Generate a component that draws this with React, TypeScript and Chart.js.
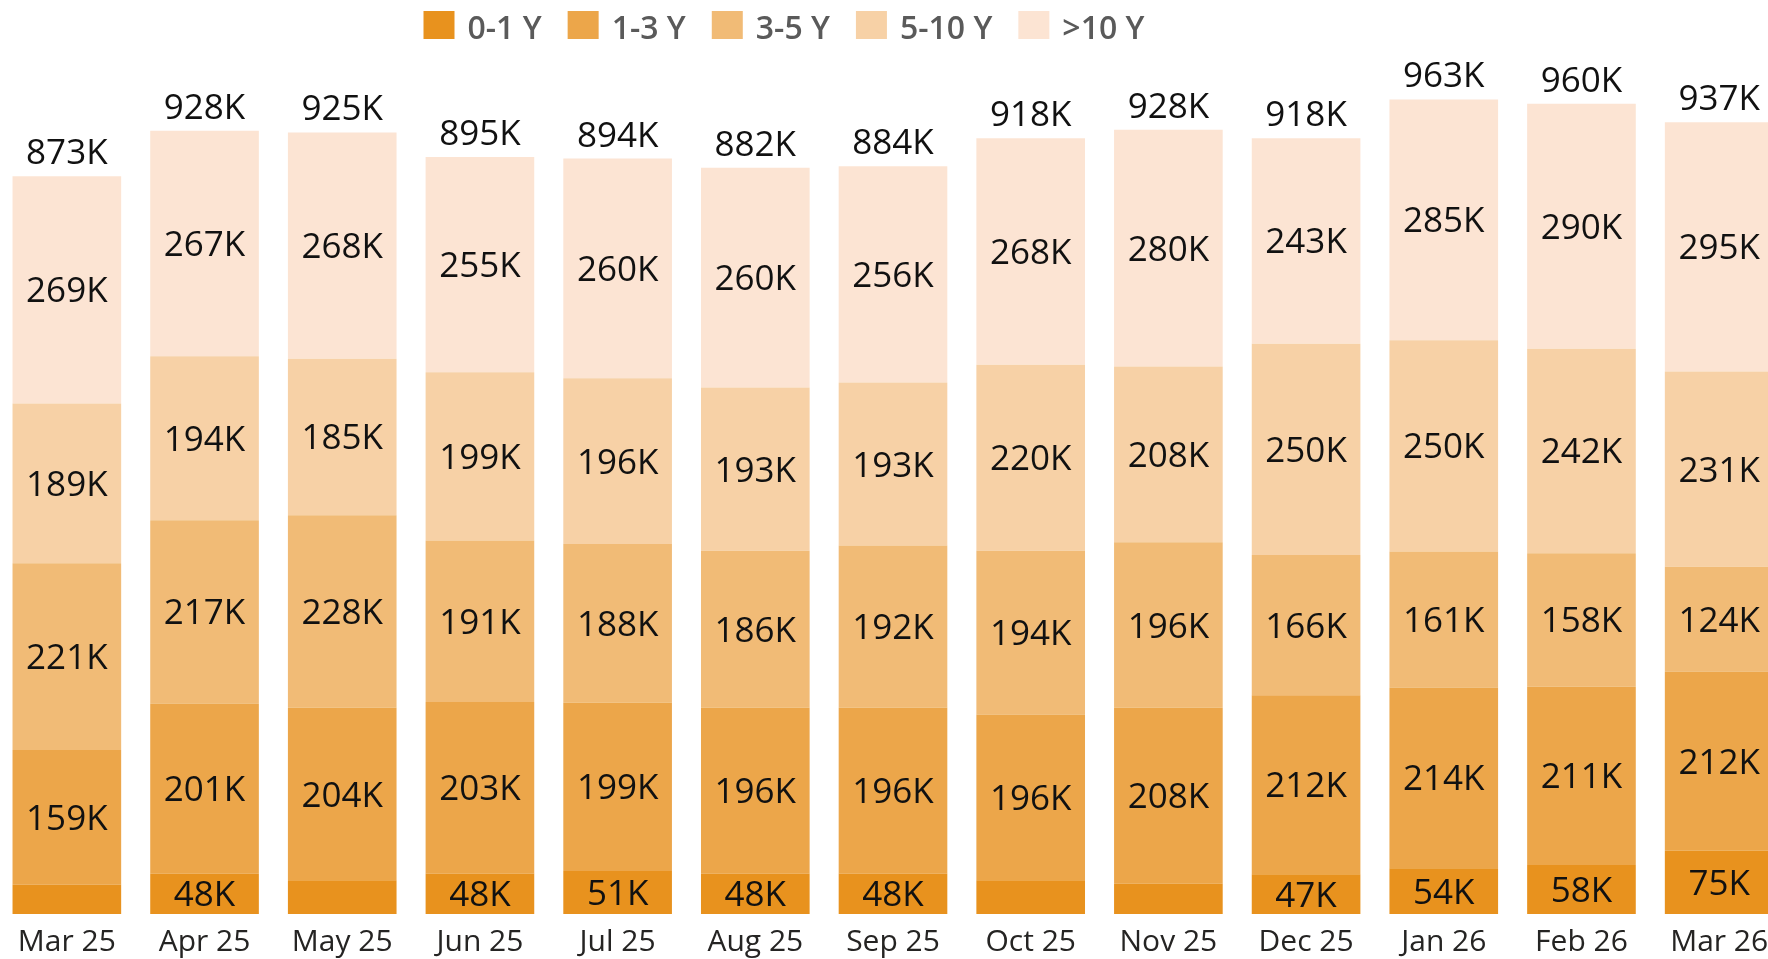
import React, { useEffect, useRef } from "react";
import { Chart, registerables } from "chart.js";

Chart.register(...registerables);

const categories = ["Mar 25", "Apr 25", "May 25", "Jun 25", "Jul 25", "Aug 25", "Sep 25", "Oct 25", "Nov 25", "Dec 25", "Jan 26", "Feb 26", "Mar 26"];
const y0to1 = [35, 48, 40, 48, 51, 48, 48, 40, 36, 47, 54, 58, 75];
const y1to3 = [159, 201, 204, 203, 199, 196, 196, 196, 208, 212, 214, 211, 212];
const y3to5 = [221, 217, 228, 191, 188, 186, 192, 194, 196, 166, 161, 158, 124];
const y5to10 = [189, 194, 185, 199, 196, 193, 193, 220, 208, 250, 250, 242, 231];
const y10plus = [269, 267, 268, 255, 260, 260, 256, 268, 280, 243, 285, 290, 295];
const totals = [873, 928, 925, 895, 894, 882, 884, 918, 928, 918, 963, 960, 937];
const seriesLabels = ["0-1 Y", "1-3 Y", "3-5 Y", "5-10 Y", ">10 Y"];
const seriesColors = ["#E8921E", "#ECA64A", "#F1BB76", "#F7D1A6", "#FCE4D3"];

const LABEL_FONT = "35px 'Open Sans'";

const labelPlugin = {
  id: "segLabels",
  afterDatasetsDraw(chart: any) {
    const ctx = chart.ctx;
    ctx.save();
    ctx.font = LABEL_FONT;
    ctx.fillStyle = "#111111";
    ctx.textAlign = "center";
    ctx.textBaseline = "alphabetic";
    const cap = 35 * 0.714;
    chart.data.datasets.forEach((ds: any, di: number) => {
      const meta = chart.getDatasetMeta(di);
      meta.data.forEach((el: any, i: number) => {
        const v = ds.data[i];
        if (v < 45) return;
        const cy = (el.y + el.base) / 2;
        ctx.fillText(`${v}K`, el.x, cy + cap / 2);
      });
    });
    const last = chart.getDatasetMeta(chart.data.datasets.length - 1);
    last.data.forEach((el: any, i: number) => {
      ctx.fillText(`${totals[i]}K`, el.x, el.y - 12);
    });
    ctx.restore();
  },
};

const legendPlugin = {
  id: "customLegend",
  afterDraw(chart: any) {
    const ctx = chart.ctx;
    ctx.save();
    ctx.font = "600 32px 'Open Sans'";
    ctx.textBaseline = "alphabetic";
    ctx.textAlign = "left";
    let x = 425.5;
    chart.data.datasets.forEach((ds: any) => {
      ctx.fillStyle = ds.backgroundColor;
      ctx.fillRect(x, 11, 31, 28);
      x += 31 + 13;
      ctx.fillStyle = "#5A5A5A";
      ctx.fillText(ds.label, x, 39);
      x += ctx.measureText(ds.label).width + 26;
    });
    ctx.restore();
  },
};

export default function App() {
  const ref = useRef<HTMLCanvasElement | null>(null);
  useEffect(() => {
    if (!ref.current) return;
    const seriesData = [y0to1, y1to3, y3to5, y5to10, y10plus];
    const chart = new Chart(ref.current, {
      type: "bar",
      data: {
        labels: categories,
        datasets: seriesData.map((d, i) => ({
          label: seriesLabels[i],
          data: d,
          backgroundColor: seriesColors[i],
          borderWidth: 0,
          barPercentage: 0.789,
          categoryPercentage: 1,
        })),
      },
      options: {
        animation: false,
        responsive: true,
        maintainAspectRatio: false,
        layout: { padding: { top: 69, left: 0, right: 0, bottom: 0 } },
        plugins: {
          legend: { display: false },
          tooltip: { enabled: false },
        },
        scales: {
          x: {
            stacked: true,
            offset: true,
            grid: { display: false, drawTicks: false },
            border: { display: false },
            ticks: {
              color: "#252423",
              font: { family: "'Open Sans'", size: 30 },
              padding: 10,
              maxRotation: 0,
              autoSkip: false,
            },
          },
          y: {
            stacked: true,
            display: false,
            min: 0,
            max: 1000,
          },
        },
      },
      plugins: [labelPlugin, legendPlugin],
    });
    return () => chart.destroy();
  }, []);
  return (
    <div style={{ position: "fixed", left: 0, top: 0, width: "100vw", height: "100vh", overflow: "hidden", background: "#fff" }}>
      <div style={{ position: "absolute", left: -2.5, top: 0, width: 1790, height: 970 }}>
        <canvas ref={ref} />
      </div>
    </div>
  );
}
